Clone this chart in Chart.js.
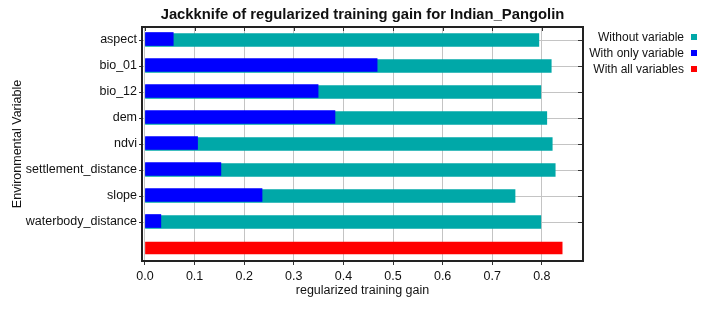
<!DOCTYPE html>
<html>
<head>
<meta charset="utf-8">
<script src="https://cdn.jsdelivr.net/npm/chart.js@4/dist/chart.umd.min.js"></script>
<style>
  html, body { margin: 0; padding: 0; background: #fff; }
  #wrap { width: 709px; height: 309px; }
</style>
</head>
<body>
<div id="wrap"><canvas id="chart" width="709" height="309"></canvas></div>
<script>
// variables, last row is the "all variables" bar
const categories = ['aspect', 'bio_01', 'bio_12', 'dem', 'ndvi', 'settlement_distance', 'slope', 'waterbody_distance', ''];
const withoutVariable = [0.794, 0.819, 0.798, 0.810, 0.821, 0.827, 0.746, 0.798, null];
const withOnlyVariable = [0.057, 0.468, 0.349, 0.383, 0.106, 0.153, 0.236, 0.032, null];
const withAllVariables = [null, null, null, null, null, null, null, null, 0.841];
const xTicks = [0, 0.1, 0.2, 0.3, 0.4, 0.5, 0.6, 0.7, 0.8];

const TEAL = '#00a8a8';
const BLUE = '#0000ff';
const RED = '#ff0000';
const FONT = 'Liberation Sans, Arial, sans-serif';
const lastRow = categories.length - 1;

// shift the blue bars up a touch so the teal shows underneath
const shiftBlue = {
  id: 'shiftBlue',
  beforeDatasetDraw(chart, args) {
    if (args.index === 1) {
      chart.ctx.save();
      chart.ctx.translate(0, -1);
    }
  },
  afterDatasetDraw(chart, args) {
    if (args.index === 1) chart.ctx.restore();
  }
};

// frame, inner ticks on top/right, title and legend
const decor = {
  id: 'decor',
  afterDraw(chart) {
    const ctx = chart.ctx;
    const a = chart.chartArea;
    const x = chart.scales.x, y = chart.scales.y;
    ctx.save();
    ctx.strokeStyle = '#333';
    ctx.lineWidth = 1;
    ctx.beginPath();
    xTicks.forEach(v => {
      const px = Math.round(x.getPixelForValue(v)) + 0.5;
      ctx.moveTo(px, a.top);
      ctx.lineTo(px, a.top + 4);
    });
    categories.forEach((c, i) => {
      if (i === lastRow) return;
      const py = Math.round(y.getPixelForValue(i)) + 0.5;
      ctx.moveTo(a.right - 5, py);
      ctx.lineTo(a.right, py);
    });
    ctx.stroke();
    ctx.lineWidth = 2;
    ctx.strokeStyle = '#222';
    ctx.strokeRect(a.left, a.top, a.right - a.left, a.bottom - a.top);

    ctx.fillStyle = '#111';
    ctx.font = 'bold 14.8px ' + FONT;
    ctx.textAlign = 'center';
    ctx.textBaseline = 'middle';
    ctx.fillText('Jackknife of regularized training gain for Indian_Pangolin', (a.left + a.right) / 2, 15);

    ctx.font = '12px ' + FONT;
    ctx.textAlign = 'right';
    chart.data.datasets.forEach((ds, i) => {
      const ly = 38 + i * 16;
      ctx.fillStyle = '#111';
      ctx.fillText(ds.label, 684, ly);
      ctx.fillStyle = ds.backgroundColor;
      ctx.fillRect(691, ly - 4, 6, 6);
    });
    ctx.restore();
  }
};

new Chart(document.getElementById('chart'), {
  type: 'bar',
  data: {
    labels: categories,
    datasets: [
      { label: 'Without variable', data: withoutVariable, backgroundColor: TEAL, barThickness: 13, order: 2 },
      { label: 'With only variable', data: withOnlyVariable, backgroundColor: BLUE, barThickness: 13, order: 1 },
      { label: 'With all variables', data: withAllVariables, backgroundColor: RED, barThickness: 12, order: 3 }
    ]
  },
  options: {
    indexAxis: 'y',
    responsive: false,
    animation: false,
    layout: { padding: { left: 0, right: 126, top: 27, bottom: 0 } },
    datasets: { bar: { grouped: false } },
    plugins: { legend: { display: false }, tooltip: { enabled: false }, title: { display: false } },
    scales: {
      x: {
        min: -0.006,
        max: 0.883,
        afterFit(s) { s.height = 48; },
        afterBuildTicks(s) { s.ticks = xTicks.map(v => ({ value: v })); },
        grid: { color: '#c4c4c4', tickColor: '#333', tickLength: 4, drawOnChartArea: true },
        border: { display: false },
        ticks: { font: { family: FONT, size: 12.5 }, color: '#111', padding: 4, callback: v => v.toFixed(1) },
        title: { display: true, text: 'regularized training gain', font: { family: FONT, size: 12.5 }, color: '#111', padding: { top: 0, bottom: 11 } }
      },
      y: {
        afterFit(s) { s.width = 142; },
        offset: true,
        grid: {
          offset: false,
          color: c => c.index === lastRow ? 'rgba(0,0,0,0)' : '#c4c4c4',
          tickColor: c => c.index === lastRow ? 'rgba(0,0,0,0)' : '#333',
          tickLength: 3
        },
        border: { display: false },
        ticks: { font: { family: FONT, size: 12.5 }, color: '#111', padding: 2 },
        title: { display: true, text: 'Environmental Variable', font: { family: FONT, size: 12.5 }, color: '#111', padding: { top: 10, bottom: 0 } }
      }
    }
  },
  plugins: [shiftBlue, decor]
});
</script>
</body>
</html>
